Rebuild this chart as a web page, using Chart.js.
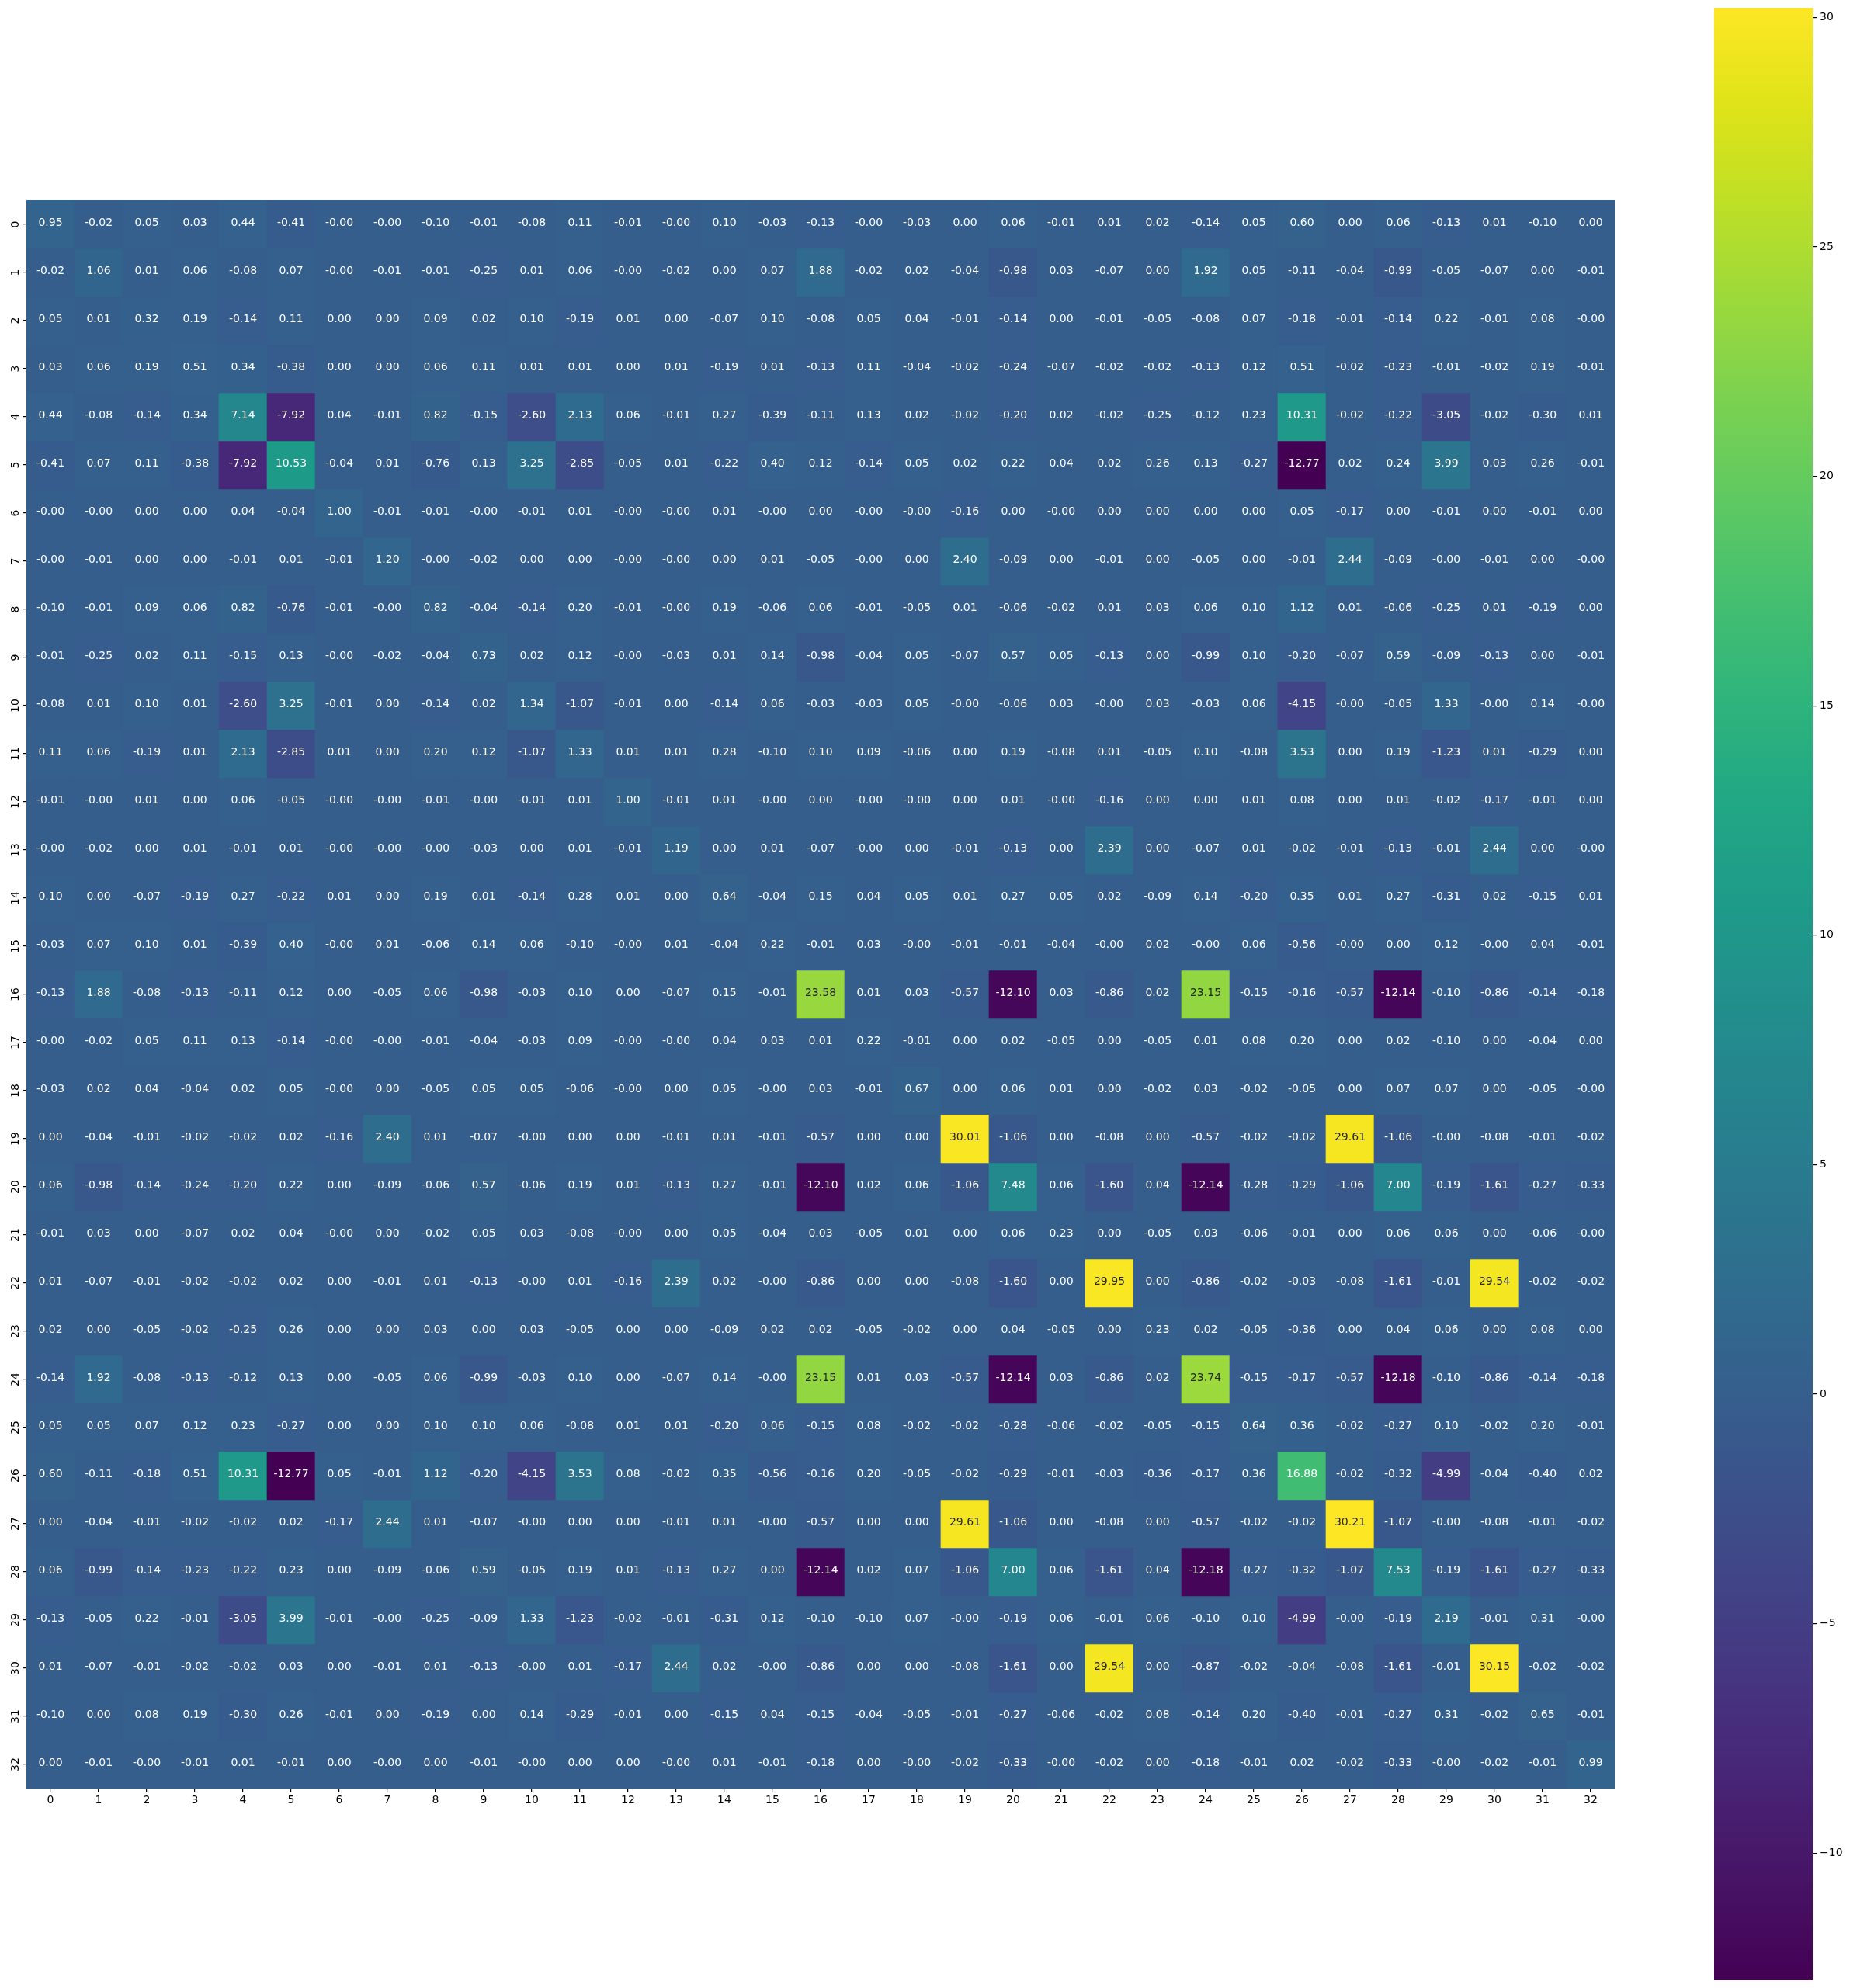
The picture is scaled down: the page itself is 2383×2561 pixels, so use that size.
<!DOCTYPE html>
<html lang="en">
  <head>
    <meta charset="UTF-8" />
    <title>Heatmap</title>
    <style>
      body { margin: 0; background: #fff; }
      #wrap { position: relative; width: 2383px; height: 2561px; }
      #heat { position: absolute; left: 0; top: 0; }
      #cbar { position: absolute; left: 2150px; top: 0; }
    </style>
  </head>
  <body>
    <div id="wrap">
      <canvas id="heat" width="2150" height="2561"></canvas>
      <canvas id="cbar" width="233" height="2561"></canvas>
    </div>

    <script src="https://cdn.jsdelivr.net/npm/chart.js"></script>
    <script>
      const rowLabels = ["0","1","2","3","4","5","6","7","8","9","10","11","12","13","14","15","16",
        "17","18","19","20","21","22","23","24","25","26","27","28","29","30","31","32"];
      const colLabels = ["0","1","2","3","4","5","6","7","8","9","10","11","12","13","14","15","16",
        "17","18","19","20","21","22","23","24","25","26","27","28","29","30","31","32"];

      // one row per line, as printed in the cells (-0.00 kept as negative zero)
      const cellValues = [
        [0.95,-0.02,0.05,0.03,0.44,-0.41,-0.00,-0.00,-0.10,-0.01,-0.08,0.11,-0.01,-0.00,0.10,-0.03,-0.13,-0.00,-0.03,0.00,0.06,-0.01,0.01,0.02,-0.14,0.05,0.60,0.00,0.06,-0.13,0.01,-0.10,0.00],
        [-0.02,1.06,0.01,0.06,-0.08,0.07,-0.00,-0.01,-0.01,-0.25,0.01,0.06,-0.00,-0.02,0.00,0.07,1.88,-0.02,0.02,-0.04,-0.98,0.03,-0.07,0.00,1.92,0.05,-0.11,-0.04,-0.99,-0.05,-0.07,0.00,-0.01],
        [0.05,0.01,0.32,0.19,-0.14,0.11,0.00,0.00,0.09,0.02,0.10,-0.19,0.01,0.00,-0.07,0.10,-0.08,0.05,0.04,-0.01,-0.14,0.00,-0.01,-0.05,-0.08,0.07,-0.18,-0.01,-0.14,0.22,-0.01,0.08,-0.00],
        [0.03,0.06,0.19,0.51,0.34,-0.38,0.00,0.00,0.06,0.11,0.01,0.01,0.00,0.01,-0.19,0.01,-0.13,0.11,-0.04,-0.02,-0.24,-0.07,-0.02,-0.02,-0.13,0.12,0.51,-0.02,-0.23,-0.01,-0.02,0.19,-0.01],
        [0.44,-0.08,-0.14,0.34,7.14,-7.92,0.04,-0.01,0.82,-0.15,-2.60,2.13,0.06,-0.01,0.27,-0.39,-0.11,0.13,0.02,-0.02,-0.20,0.02,-0.02,-0.25,-0.12,0.23,10.31,-0.02,-0.22,-3.05,-0.02,-0.30,0.01],
        [-0.41,0.07,0.11,-0.38,-7.92,10.53,-0.04,0.01,-0.76,0.13,3.25,-2.85,-0.05,0.01,-0.22,0.40,0.12,-0.14,0.05,0.02,0.22,0.04,0.02,0.26,0.13,-0.27,-12.77,0.02,0.24,3.99,0.03,0.26,-0.01],
        [-0.00,-0.00,0.00,0.00,0.04,-0.04,1.00,-0.01,-0.01,-0.00,-0.01,0.01,-0.00,-0.00,0.01,-0.00,0.00,-0.00,-0.00,-0.16,0.00,-0.00,0.00,0.00,0.00,0.00,0.05,-0.17,0.00,-0.01,0.00,-0.01,0.00],
        [-0.00,-0.01,0.00,0.00,-0.01,0.01,-0.01,1.20,-0.00,-0.02,0.00,0.00,-0.00,-0.00,0.00,0.01,-0.05,-0.00,0.00,2.40,-0.09,0.00,-0.01,0.00,-0.05,0.00,-0.01,2.44,-0.09,-0.00,-0.01,0.00,-0.00],
        [-0.10,-0.01,0.09,0.06,0.82,-0.76,-0.01,-0.00,0.82,-0.04,-0.14,0.20,-0.01,-0.00,0.19,-0.06,0.06,-0.01,-0.05,0.01,-0.06,-0.02,0.01,0.03,0.06,0.10,1.12,0.01,-0.06,-0.25,0.01,-0.19,0.00],
        [-0.01,-0.25,0.02,0.11,-0.15,0.13,-0.00,-0.02,-0.04,0.73,0.02,0.12,-0.00,-0.03,0.01,0.14,-0.98,-0.04,0.05,-0.07,0.57,0.05,-0.13,0.00,-0.99,0.10,-0.20,-0.07,0.59,-0.09,-0.13,0.00,-0.01],
        [-0.08,0.01,0.10,0.01,-2.60,3.25,-0.01,0.00,-0.14,0.02,1.34,-1.07,-0.01,0.00,-0.14,0.06,-0.03,-0.03,0.05,-0.00,-0.06,0.03,-0.00,0.03,-0.03,0.06,-4.15,-0.00,-0.05,1.33,-0.00,0.14,-0.00],
        [0.11,0.06,-0.19,0.01,2.13,-2.85,0.01,0.00,0.20,0.12,-1.07,1.33,0.01,0.01,0.28,-0.10,0.10,0.09,-0.06,0.00,0.19,-0.08,0.01,-0.05,0.10,-0.08,3.53,0.00,0.19,-1.23,0.01,-0.29,0.00],
        [-0.01,-0.00,0.01,0.00,0.06,-0.05,-0.00,-0.00,-0.01,-0.00,-0.01,0.01,1.00,-0.01,0.01,-0.00,0.00,-0.00,-0.00,0.00,0.01,-0.00,-0.16,0.00,0.00,0.01,0.08,0.00,0.01,-0.02,-0.17,-0.01,0.00],
        [-0.00,-0.02,0.00,0.01,-0.01,0.01,-0.00,-0.00,-0.00,-0.03,0.00,0.01,-0.01,1.19,0.00,0.01,-0.07,-0.00,0.00,-0.01,-0.13,0.00,2.39,0.00,-0.07,0.01,-0.02,-0.01,-0.13,-0.01,2.44,0.00,-0.00],
        [0.10,0.00,-0.07,-0.19,0.27,-0.22,0.01,0.00,0.19,0.01,-0.14,0.28,0.01,0.00,0.64,-0.04,0.15,0.04,0.05,0.01,0.27,0.05,0.02,-0.09,0.14,-0.20,0.35,0.01,0.27,-0.31,0.02,-0.15,0.01],
        [-0.03,0.07,0.10,0.01,-0.39,0.40,-0.00,0.01,-0.06,0.14,0.06,-0.10,-0.00,0.01,-0.04,0.22,-0.01,0.03,-0.00,-0.01,-0.01,-0.04,-0.00,0.02,-0.00,0.06,-0.56,-0.00,0.00,0.12,-0.00,0.04,-0.01],
        [-0.13,1.88,-0.08,-0.13,-0.11,0.12,0.00,-0.05,0.06,-0.98,-0.03,0.10,0.00,-0.07,0.15,-0.01,23.58,0.01,0.03,-0.57,-12.10,0.03,-0.86,0.02,23.15,-0.15,-0.16,-0.57,-12.14,-0.10,-0.86,-0.14,-0.18],
        [-0.00,-0.02,0.05,0.11,0.13,-0.14,-0.00,-0.00,-0.01,-0.04,-0.03,0.09,-0.00,-0.00,0.04,0.03,0.01,0.22,-0.01,0.00,0.02,-0.05,0.00,-0.05,0.01,0.08,0.20,0.00,0.02,-0.10,0.00,-0.04,0.00],
        [-0.03,0.02,0.04,-0.04,0.02,0.05,-0.00,0.00,-0.05,0.05,0.05,-0.06,-0.00,0.00,0.05,-0.00,0.03,-0.01,0.67,0.00,0.06,0.01,0.00,-0.02,0.03,-0.02,-0.05,0.00,0.07,0.07,0.00,-0.05,-0.00],
        [0.00,-0.04,-0.01,-0.02,-0.02,0.02,-0.16,2.40,0.01,-0.07,-0.00,0.00,0.00,-0.01,0.01,-0.01,-0.57,0.00,0.00,30.01,-1.06,0.00,-0.08,0.00,-0.57,-0.02,-0.02,29.61,-1.06,-0.00,-0.08,-0.01,-0.02],
        [0.06,-0.98,-0.14,-0.24,-0.20,0.22,0.00,-0.09,-0.06,0.57,-0.06,0.19,0.01,-0.13,0.27,-0.01,-12.10,0.02,0.06,-1.06,7.48,0.06,-1.60,0.04,-12.14,-0.28,-0.29,-1.06,7.00,-0.19,-1.61,-0.27,-0.33],
        [-0.01,0.03,0.00,-0.07,0.02,0.04,-0.00,0.00,-0.02,0.05,0.03,-0.08,-0.00,0.00,0.05,-0.04,0.03,-0.05,0.01,0.00,0.06,0.23,0.00,-0.05,0.03,-0.06,-0.01,0.00,0.06,0.06,0.00,-0.06,-0.00],
        [0.01,-0.07,-0.01,-0.02,-0.02,0.02,0.00,-0.01,0.01,-0.13,-0.00,0.01,-0.16,2.39,0.02,-0.00,-0.86,0.00,0.00,-0.08,-1.60,0.00,29.95,0.00,-0.86,-0.02,-0.03,-0.08,-1.61,-0.01,29.54,-0.02,-0.02],
        [0.02,0.00,-0.05,-0.02,-0.25,0.26,0.00,0.00,0.03,0.00,0.03,-0.05,0.00,0.00,-0.09,0.02,0.02,-0.05,-0.02,0.00,0.04,-0.05,0.00,0.23,0.02,-0.05,-0.36,0.00,0.04,0.06,0.00,0.08,0.00],
        [-0.14,1.92,-0.08,-0.13,-0.12,0.13,0.00,-0.05,0.06,-0.99,-0.03,0.10,0.00,-0.07,0.14,-0.00,23.15,0.01,0.03,-0.57,-12.14,0.03,-0.86,0.02,23.74,-0.15,-0.17,-0.57,-12.18,-0.10,-0.86,-0.14,-0.18],
        [0.05,0.05,0.07,0.12,0.23,-0.27,0.00,0.00,0.10,0.10,0.06,-0.08,0.01,0.01,-0.20,0.06,-0.15,0.08,-0.02,-0.02,-0.28,-0.06,-0.02,-0.05,-0.15,0.64,0.36,-0.02,-0.27,0.10,-0.02,0.20,-0.01],
        [0.60,-0.11,-0.18,0.51,10.31,-12.77,0.05,-0.01,1.12,-0.20,-4.15,3.53,0.08,-0.02,0.35,-0.56,-0.16,0.20,-0.05,-0.02,-0.29,-0.01,-0.03,-0.36,-0.17,0.36,16.88,-0.02,-0.32,-4.99,-0.04,-0.40,0.02],
        [0.00,-0.04,-0.01,-0.02,-0.02,0.02,-0.17,2.44,0.01,-0.07,-0.00,0.00,0.00,-0.01,0.01,-0.00,-0.57,0.00,0.00,29.61,-1.06,0.00,-0.08,0.00,-0.57,-0.02,-0.02,30.21,-1.07,-0.00,-0.08,-0.01,-0.02],
        [0.06,-0.99,-0.14,-0.23,-0.22,0.23,0.00,-0.09,-0.06,0.59,-0.05,0.19,0.01,-0.13,0.27,0.00,-12.14,0.02,0.07,-1.06,7.00,0.06,-1.61,0.04,-12.18,-0.27,-0.32,-1.07,7.53,-0.19,-1.61,-0.27,-0.33],
        [-0.13,-0.05,0.22,-0.01,-3.05,3.99,-0.01,-0.00,-0.25,-0.09,1.33,-1.23,-0.02,-0.01,-0.31,0.12,-0.10,-0.10,0.07,-0.00,-0.19,0.06,-0.01,0.06,-0.10,0.10,-4.99,-0.00,-0.19,2.19,-0.01,0.31,-0.00],
        [0.01,-0.07,-0.01,-0.02,-0.02,0.03,0.00,-0.01,0.01,-0.13,-0.00,0.01,-0.17,2.44,0.02,-0.00,-0.86,0.00,0.00,-0.08,-1.61,0.00,29.54,0.00,-0.87,-0.02,-0.04,-0.08,-1.61,-0.01,30.15,-0.02,-0.02],
        [-0.10,0.00,0.08,0.19,-0.30,0.26,-0.01,0.00,-0.19,0.00,0.14,-0.29,-0.01,0.00,-0.15,0.04,-0.15,-0.04,-0.05,-0.01,-0.27,-0.06,-0.02,0.08,-0.14,0.20,-0.40,-0.01,-0.27,0.31,-0.02,0.65,-0.01],
        [0.00,-0.01,-0.00,-0.01,0.01,-0.01,0.00,-0.00,0.00,-0.01,-0.00,0.00,0.00,-0.00,0.01,-0.01,-0.18,0.00,-0.00,-0.02,-0.33,-0.00,-0.02,0.00,-0.18,-0.01,0.02,-0.02,-0.33,-0.00,-0.02,-0.01,0.99],
      ];

      const colorMin = -12.77;
      const colorMax = 30.21;
      const colorbarTicks = [-10, -5, 0, 5, 10, 15, 20, 25, 30];

      const viridisHex = ["#440154","#471365","#482475","#463480","#414487","#3B528B","#355F8D",
        "#2F6C8E","#2A788E","#25848E","#21908C","#1E9C89","#22A884","#2FB47C","#44BF70","#5EC962",
        "#7AD151","#9BD93C","#BDDF26","#DFE318","#FDE725"];

      const FONT = { family: "DejaVu Sans", size: 14 };

      const hexToRgb = (h) => [1, 3, 5].map((k) => parseInt(h.slice(k, k + 2), 16));

      function viridis(t) {
        t = Math.min(1, Math.max(0, t));
        const pos = t * (viridisHex.length - 1);
        const k = Math.min(Math.floor(pos), viridisHex.length - 2);
        const f = pos - k;
        const a = hexToRgb(viridisHex[k]);
        const b = hexToRgb(viridisHex[k + 1]);
        return a.map((c, n) => Math.round(c + (b[n] - c) * f));
      }

      const cellRgb = (v) => viridis((v - colorMin) / (colorMax - colorMin));
      const rgbStr = (c) => `rgb(${c[0]},${c[1]},${c[2]})`;

      // seaborn picks dark text on light cells
      function textColor(v) {
        const lin = cellRgb(v).map((c) => {
          c /= 255;
          return c <= 0.03928 ? c / 12.92 : Math.pow((c + 0.055) / 1.055, 2.4);
        });
        const lum = 0.2126 * lin[0] + 0.7152 * lin[1] + 0.0722 * lin[2];
        return lum > 0.408 ? "#262626" : "#ffffff";
      }

      const fmt = (v) => (Object.is(v, -0) ? "-0.00" : v.toFixed(2));

      const cellText = {
        id: "cellText",
        afterDatasetsDraw(chart) {
          const { ctx, scales } = chart;
          ctx.save();
          ctx.font = `${FONT.size}px "${FONT.family}"`;
          ctx.textAlign = "center";
          ctx.textBaseline = "middle";
          cellValues.forEach((row, i) => {
            row.forEach((v, j) => {
              ctx.fillStyle = textColor(v);
              ctx.fillText(fmt(v), scales.x.getPixelForValue(j), scales.y.getPixelForValue(i) - 1.5);
            });
          });
          ctx.restore();
        },
      };

      const datasets = rowLabels.map((name, i) => ({
        label: "row " + name,
        data: colLabels.map(() => [i - 0.5, i + 0.5]),
        backgroundColor: cellValues[i].map((v) => rgbStr(cellRgb(v))),
        borderWidth: 0,
        barPercentage: 1,
        categoryPercentage: 1,
        grouped: false,
      }));

      const noPad = (s) => {
        s.paddingLeft = 0;
        s.paddingRight = 0;
        s.paddingTop = 0;
        s.paddingBottom = 0;
      };

      new Chart(document.getElementById("heat"), {
        type: "bar",
        data: { labels: colLabels, datasets },
        options: {
          responsive: false,
          animation: false,
          devicePixelRatio: 1,
          layout: { padding: { left: 0, top: 258, right: 70, bottom: 217 } },
          plugins: { legend: { display: false }, tooltip: { enabled: false } },
          scales: {
            x: {
              type: "category",
              offset: true,
              grid: { offset: false, drawOnChartArea: false, drawTicks: true, tickLength: 5, color: "#000", lineWidth: 1.2 },
              border: { display: false },
              ticks: { font: FONT, color: "#000", padding: 2, autoSkip: false, maxRotation: 0, minRotation: 0 },
              afterFit: (s) => { s.height = 40; noPad(s); },
            },
            y: {
              type: "linear",
              min: -0.5,
              max: 32.5,
              reverse: true,
              afterBuildTicks: (s) => { s.ticks = rowLabels.map((_, i) => ({ value: i })); },
              grid: { drawOnChartArea: false, drawTicks: true, tickLength: 5, color: "#000", lineWidth: 1.2 },
              border: { display: false },
              ticks: {
                font: FONT,
                color: "#000",
                autoSkip: false,
                minRotation: 90,
                maxRotation: 90,
                crossAlign: "center",
                padding: 0,
                callback: (v) => rowLabels[v],
              },
              afterFit: (s) => { s.width = 34; noPad(s); },
            },
          },
        },
        plugins: [cellText],
      });

      function barGradient(context) {
        const chart = context.chart;
        if (!chart.chartArea) return viridisHex[0];
        const yS = chart.scales.y;
        const g = chart.ctx.createLinearGradient(0, yS.getPixelForValue(colorMin), 0, yS.getPixelForValue(colorMax));
        viridisHex.forEach((c, k) => g.addColorStop(k / (viridisHex.length - 1), c));
        return g;
      }

      new Chart(document.getElementById("cbar"), {
        type: "bar",
        data: {
          labels: [""],
          datasets: [{
            data: [[colorMin, colorMax]],
            backgroundColor: barGradient,
            borderWidth: 0,
            barPercentage: 1,
            categoryPercentage: 1,
          }],
        },
        options: {
          responsive: false,
          animation: false,
          devicePixelRatio: 1,
          layout: { padding: { left: 58, top: 10, right: 0, bottom: 10 } },
          plugins: { legend: { display: false }, tooltip: { enabled: false } },
          scales: {
            x: { display: false, offset: true },
            y: {
              type: "linear",
              position: "right",
              min: colorMin,
              max: colorMax,
              afterBuildTicks: (s) => { s.ticks = colorbarTicks.map((v) => ({ value: v })); },
              grid: { drawOnChartArea: false, drawTicks: true, tickLength: 5, color: "#000", lineWidth: 1.2 },
              border: { display: false },
              ticks: {
                font: FONT,
                color: "#000",
                padding: 4,
                callback: (v) => String(v).replace("-", "\u2212"),
              },
              afterFit: (s) => { s.width = 48; noPad(s); },
            },
          },
        },
      });
    </script>
  </body>
</html>
